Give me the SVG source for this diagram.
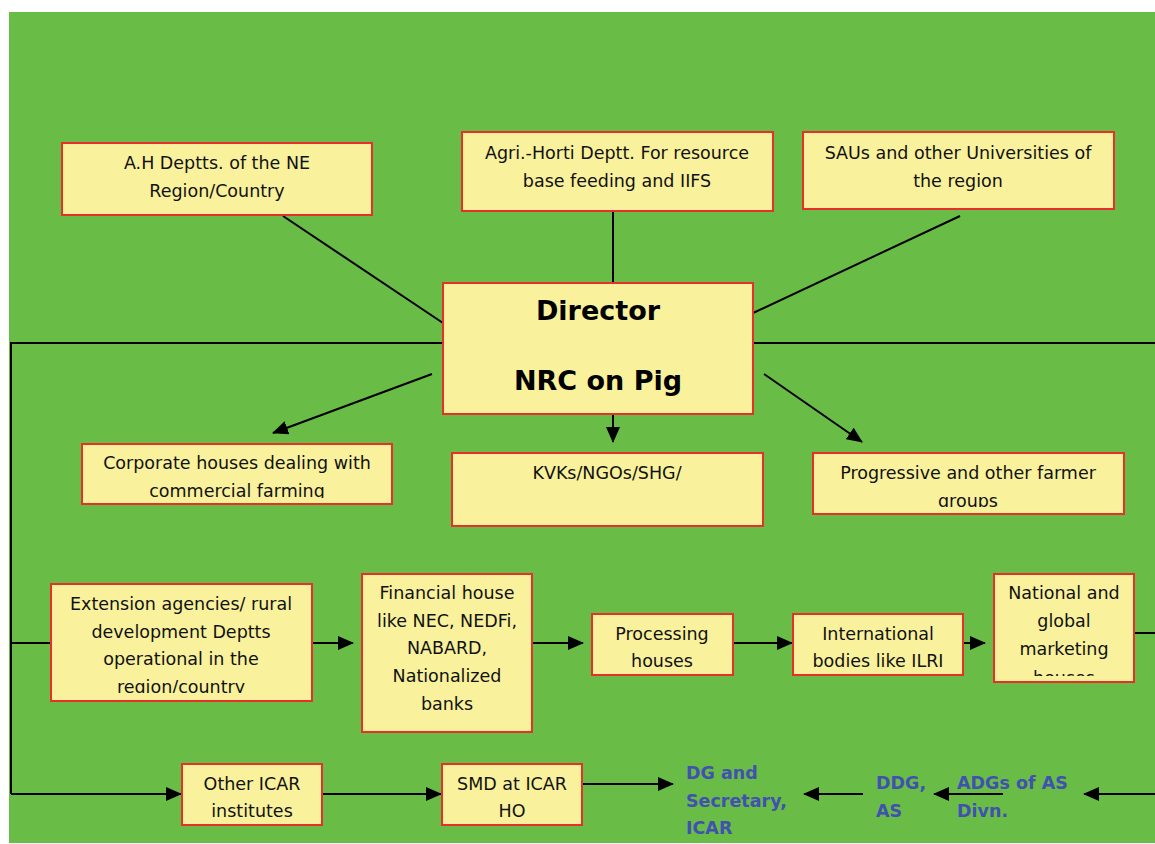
<svg xmlns="http://www.w3.org/2000/svg" width="1155" height="844" viewBox="0 0 1155 844">
  <style>
    .box { fill: #F9F19B; stroke: #E8302A; stroke-width: 2; }
    .t { font-family: "DejaVu Sans", "Verdana", sans-serif; font-size: 17.5px; fill: #111; text-anchor: middle; }
    .big { font-family: "DejaVu Sans", sans-serif; font-size: 27px; font-weight: bold; fill: #000; text-anchor: middle; }
    .blue { font-family: "DejaVu Sans", sans-serif; font-size: 17.5px; font-weight: bold; fill: #4051B0; }
    .ln { stroke: #000; stroke-width: 2; fill: none; }
    .ar { stroke: #000; stroke-width: 2; fill: none; marker-end: url(#head); }
  </style>
  <defs>
    <marker id="head" markerUnits="userSpaceOnUse" markerWidth="16" markerHeight="14" refX="15" refY="7" orient="auto">
      <path d="M0,0 L16,7 L0,14 Z" fill="#000"/>
    </marker>
    <!-- text areas sit inside the box padding, so overflow lines are cut short -->
    <clipPath id="cCorp"><rect x="82" y="444" width="310" height="54"/></clipPath>
    <clipPath id="cProg"><rect x="813" y="453" width="311" height="54"/></clipPath>
    <clipPath id="cExt"><rect x="51" y="584" width="261" height="109"/></clipPath>
    <clipPath id="cNat"><rect x="994" y="574" width="140" height="102"/></clipPath>
  </defs>

  <rect x="0" y="0" width="1155" height="844" fill="#fff"/>
  <rect x="9" y="12" width="1146" height="831" fill="#69BC46"/>

  <!-- connectors -->
  <g id="connectors">
    <line class="ln" x1="283" y1="216" x2="443" y2="323"/>
    <line class="ln" x1="613" y1="211" x2="613" y2="283"/>
    <line class="ln" x1="960" y1="216" x2="753" y2="313"/>
    <polyline class="ln" points="443,343 11,343 11,794"/>
    <line class="ln" x1="753" y1="343" x2="1155" y2="343"/>
    <line class="ar" x1="432" y1="374" x2="273" y2="433"/>
    <line class="ar" x1="613" y1="393" x2="613" y2="442"/>
    <line class="ar" x1="764" y1="374" x2="862" y2="442"/>
    <line class="ln" x1="11" y1="643" x2="51" y2="643"/>
    <line class="ar" x1="312" y1="643" x2="353" y2="643"/>
    <line class="ar" x1="532" y1="643" x2="583" y2="643"/>
    <line class="ar" x1="733" y1="643" x2="792" y2="643"/>
    <line class="ar" x1="963" y1="643" x2="985" y2="643"/>
    <line class="ln" x1="1134" y1="633" x2="1155" y2="633"/>
    <line class="ar" x1="11" y1="794" x2="181" y2="794"/>
    <line class="ar" x1="322" y1="794" x2="441" y2="794"/>
    <line class="ar" x1="582" y1="784" x2="673" y2="784"/>
    <line class="ar" x1="863" y1="794" x2="804" y2="794"/>
    <line class="ar" x1="1003" y1="794" x2="934" y2="794"/>
    <line class="ar" x1="1155" y1="794" x2="1084" y2="794"/>
  </g>

  <g id="ah-depts">
    <rect class="box" x="62" y="143" width="310" height="72"/>
    <text class="t" x="217" y="169">A.H Deptts. of the NE</text>
    <text class="t" x="217" y="197">Region/Country</text>
  </g>
  <g id="agri-horti">
    <rect class="box" x="462" y="132" width="311" height="79"/>
    <text class="t" x="617" y="159">Agri.-Horti Deptt. For resource</text>
    <text class="t" x="617" y="187">base feeding and IIFS</text>
  </g>
  <g id="saus">
    <rect class="box" x="803" y="132" width="311" height="77"/>
    <text class="t" x="958" y="159">SAUs and other Universities of</text>
    <text class="t" x="958" y="187">the region</text>
  </g>
  <g id="director">
    <rect class="box" x="443" y="283" width="310" height="131"/>
    <text class="big" x="598" y="320">Director</text>
    <text class="big" x="598" y="390">NRC on Pig</text>
  </g>
  <g id="corporate">
    <rect class="box" x="82" y="444" width="310" height="60"/>
    <g clip-path="url(#cCorp)">
      <text class="t" x="237" y="469">Corporate houses dealing with</text>
      <text class="t" x="237" y="497">commercial farming</text>
    </g>
  </g>
  <g id="kvks">
    <rect class="box" x="452" y="453" width="311" height="73"/>
    <text class="t" x="607" y="479">KVKs/NGOs/SHG/</text>
  </g>
  <g id="progressive">
    <rect class="box" x="813" y="453" width="311" height="61"/>
    <g clip-path="url(#cProg)">
      <text class="t" x="968" y="479">Progressive and other farmer</text>
      <text class="t" x="968" y="507">groups</text>
    </g>
  </g>
  <g id="extension">
    <rect class="box" x="51" y="584" width="261" height="117"/>
    <g clip-path="url(#cExt)">
      <text class="t" x="181" y="610">Extension agencies/ rural</text>
      <text class="t" x="181" y="638">development Deptts</text>
      <text class="t" x="181" y="665">operational in the</text>
      <text class="t" x="181" y="693">region/country</text>
    </g>
  </g>
  <g id="financial">
    <rect class="box" x="362" y="574" width="170" height="158"/>
    <text class="t" x="447" y="599">Financial house</text>
    <text class="t" x="447" y="627">like NEC, NEDFi,</text>
    <text class="t" x="447" y="654">NABARD,</text>
    <text class="t" x="447" y="682">Nationalized</text>
    <text class="t" x="447" y="710">banks</text>
  </g>
  <g id="processing">
    <rect class="box" x="592" y="614" width="141" height="61"/>
    <text class="t" x="662" y="640">Processing</text>
    <text class="t" x="662" y="667">houses</text>
  </g>
  <g id="international">
    <rect class="box" x="793" y="614" width="170" height="61"/>
    <text class="t" x="878" y="640">International</text>
    <text class="t" x="878" y="667">bodies like ILRI</text>
  </g>
  <g id="marketing">
    <rect class="box" x="994" y="574" width="140" height="108"/>
    <g clip-path="url(#cNat)">
      <text class="t" x="1064" y="599">National and</text>
      <text class="t" x="1064" y="627">global</text>
      <text class="t" x="1064" y="655">marketing</text>
      <text class="t" x="1064" y="684">houses</text>
    </g>
  </g>
  <g id="other-icar">
    <rect class="box" x="182" y="764" width="140" height="61"/>
    <text class="t" x="252" y="790">Other ICAR</text>
    <text class="t" x="252" y="817">institutes</text>
  </g>
  <g id="smd">
    <rect class="box" x="442" y="764" width="140" height="61"/>
    <text class="t" x="512" y="790">SMD at ICAR</text>
    <text class="t" x="512" y="817">HO</text>
  </g>
  <g id="dg">
    <text class="blue" x="686" y="779">DG and</text>
    <text class="blue" x="686" y="807">Secretary,</text>
    <text class="blue" x="686" y="834">ICAR</text>
  </g>
  <g id="ddg">
    <text class="blue" x="876" y="789">DDG,</text>
    <text class="blue" x="876" y="817">AS</text>
  </g>
  <g id="adgs">
    <text class="blue" x="957" y="789">ADGs of AS</text>
    <text class="blue" x="957" y="817">Divn.</text>
  </g>
</svg>
